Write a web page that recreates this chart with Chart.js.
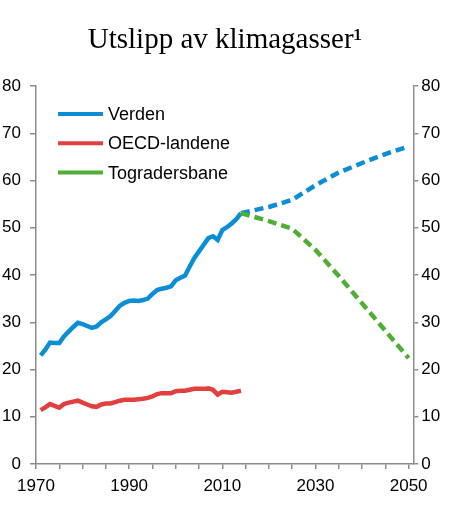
<!DOCTYPE html>
<html>
<head>
<meta charset="utf-8">
<script src="https://cdn.jsdelivr.net/npm/chart.js@4.4.1/dist/chart.umd.min.js"></script>
<style>
  html, body { margin: 0; padding: 0; background: #fff; }
</style>
</head>
<body>
<canvas id="myChart" width="450" height="516"></canvas>
<script>
// historiske tall, 1971-2014
const years = [1971, 1972, 1973, 1974, 1975, 1976, 1977, 1978, 1979, 1980,
  1981, 1982, 1983, 1984, 1985, 1986, 1987, 1988, 1989, 1990,
  1991, 1992, 1993, 1994, 1995, 1996, 1997, 1998, 1999, 2000,
  2001, 2002, 2003, 2004, 2005, 2006, 2007, 2008, 2009, 2010,
  2011, 2012, 2013, 2014];
const verden = [23.0, 24.2, 25.7, 25.6, 25.6, 27.0, 28.0, 29.0, 29.9, 29.6,
  29.2, 28.8, 29.1, 30.0, 30.6, 31.3, 32.4, 33.5, 34.1, 34.5,
  34.6, 34.5, 34.7, 35.0, 36.0, 36.8, 37.1, 37.3, 37.6, 38.9,
  39.4, 39.9, 41.8, 43.6, 45.0, 46.4, 47.8, 48.2, 47.4, 49.5,
  50.1, 50.9, 51.8, 53.1];
const oecd = [11.4, 12.0, 12.7, 12.3, 11.9, 12.7, 13.0, 13.2, 13.4, 13.0,
  12.6, 12.2, 12.1, 12.6, 12.8, 12.8, 13.1, 13.4, 13.6, 13.6,
  13.6, 13.7, 13.8, 14.0, 14.3, 14.8, 15.0, 15.0, 15.0, 15.4,
  15.5, 15.5, 15.7, 15.9, 15.9, 15.9, 16.0, 15.7, 14.7, 15.3,
  15.2, 15.1, 15.3, 15.5];

// framskrivinger
const projYears = [2014, 2020, 2025, 2030, 2035, 2040, 2045, 2050];
const verdenProj = [53.1, 54.4, 55.9, 59.0, 61.7, 63.7, 65.6, 67.2];
const togradersbane = [53.1, 51.4, 49.8, 45.3, 39.8, 34.0, 28.2, 22.4];

const xTickLabels = [1970, 1990, 2010, 2030, 2050];
const yMin = 0, yMax = 80, yStep = 10;

const blue = '#0b8ed6';
const red = '#e2403f';
const green = '#4fae34';
const axisGray = '#8c8c8c';
const sans = '"Liberation Sans", Arial, sans-serif';
const lineW = 4.5;

function pairs(xs, ys) {
  return xs.map(function(x, i) { return {x: x, y: ys[i]}; });
}

// legend inside the plot, top left, solid lines
const insideLegend = {
  id: 'insideLegend',
  afterDraw(chart) {
    const ctx = chart.ctx;
    const x0 = chart.chartArea.left + 22;
    let y = chart.chartArea.top + 28;
    ctx.save();
    ctx.font = '18px ' + sans;
    ctx.textBaseline = 'middle';
    ctx.fillStyle = '#000';
    chart.data.datasets.filter(d => d.inLegend).forEach(d => {
      ctx.strokeStyle = d.borderColor;
      ctx.lineWidth = 4;
      ctx.setLineDash([]);
      ctx.beginPath();
      ctx.moveTo(x0, y);
      ctx.lineTo(x0 + 45, y);
      ctx.stroke();
      ctx.fillText(d.label, x0 + 50, y + 1);
      y += 29.3;
    });
    ctx.restore();
  }
};

function yAxis(pos, width, tickLen, pad) {
  return {
    position: pos,
    min: yMin,
    max: yMax,
    afterFit: s => { s.width = width; },
    border: { color: axisGray, width: 1.5 },
    grid: { drawOnChartArea: false, tickLength: tickLen, color: axisGray, lineWidth: 1.5 },
    ticks: { stepSize: yStep, padding: pad, color: '#000', font: { family: sans, size: 17 } }
  };
}

const ctx = document.getElementById('myChart');

new Chart(ctx, {
  type: 'line',
  data: {
    datasets: [{
      label: 'Verden',
      inLegend: true,
      data: pairs(years, verden),
      borderColor: blue,
      borderWidth: lineW,
      pointRadius: 0,
      order: 1
    }, {
      label: 'Verden',
      data: pairs(projYears, verdenProj),
      borderColor: blue,
      borderWidth: lineW,
      borderDash: [9, 5],
      pointRadius: 0,
      order: 1
    }, {
      label: 'OECD-landene',
      inLegend: true,
      data: pairs(years, oecd),
      borderColor: red,
      borderWidth: lineW,
      pointRadius: 0,
      order: 1
    }, {
      label: 'Togradersbane',
      inLegend: true,
      data: pairs(projYears, togradersbane),
      borderColor: green,
      borderWidth: lineW,
      borderDash: [9, 5],
      pointRadius: 0,
      order: 0
    }]
  },
  options: {
    responsive: false,
    animation: false,
    layout: { padding: 0 },
    plugins: {
      legend: { display: false },
      tooltip: { enabled: false },
      title: {
        display: true,
        text: 'Utslipp av klimagasser¹',
        color: '#000',
        font: { family: '"Liberation Serif", "Times New Roman", serif', size: 29, weight: 'normal' },
        padding: { top: 23, bottom: 28.2 }
      }
    },
    scales: {
      x: {
        type: 'linear',
        min: 1970,
        max: 2051,
        afterFit: s => { s.height = 52; },
        border: { color: axisGray, width: 1.5 },
        grid: { drawOnChartArea: false, tickLength: 5, color: axisGray, lineWidth: 1.5 },
        ticks: {
          stepSize: 5,
          includeBounds: false,
          autoSkip: false,
          maxRotation: 0,
          padding: 7,
          color: '#000',
          font: { family: sans, size: 17 },
          callback: v => xTickLabels.includes(v) ? String(v) : ''
        }
      },
      y: yAxis('left', 36, 6, 9),
      y2: yAxis('right', 36.7, 5, 3)
    }
  },
  plugins: [insideLegend]
});
</script>
</body>
</html>
